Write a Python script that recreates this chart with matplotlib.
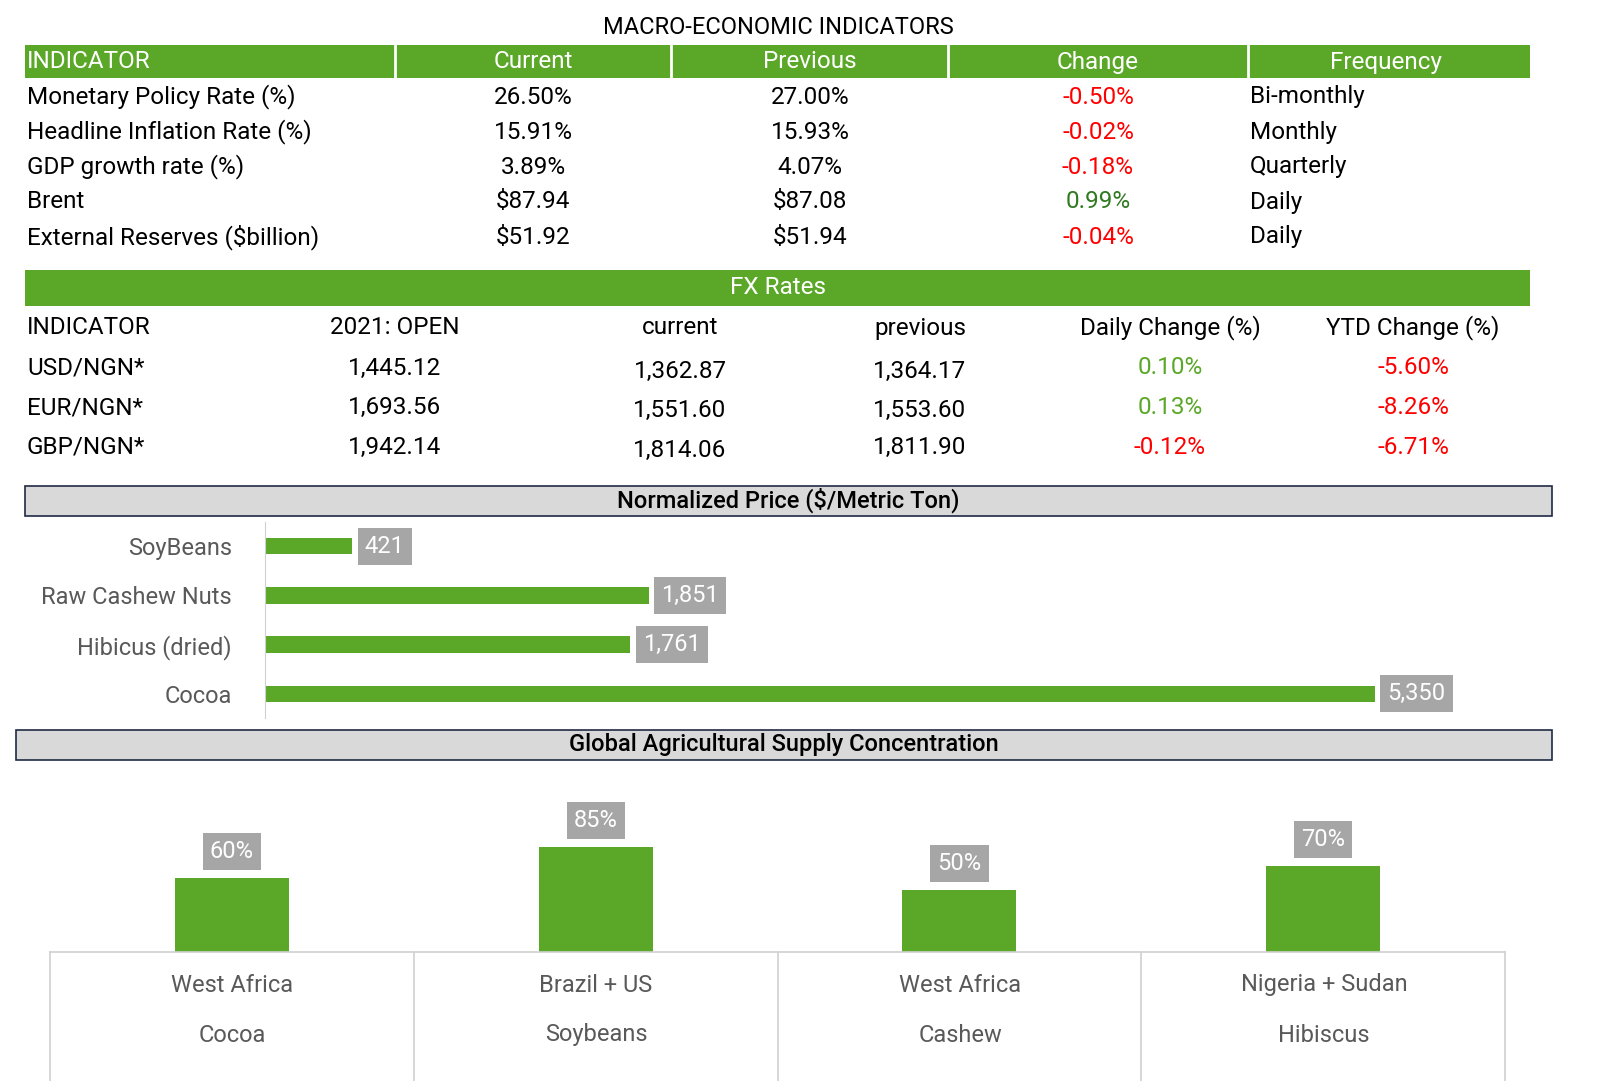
import matplotlib
matplotlib.use("Agg")
import matplotlib.pyplot as plt
from matplotlib.patches import Rectangle

plt.rcParams['font.family'] = ['Roboto', 'DejaVu Sans']

W, H = 1600, 1081
GREEN = '#5BA829'
RED = '#FF0000'
DKGREEN = '#2F7A1F'
GRAY_TXT = '#595959'
LBL = '#A6A6A6'

macro_headers = ["INDICATOR", "Current", "Previous", "Change", "Frequency"]
macro_names = ["Monetary Policy Rate (%)", "Headline Inflation Rate (%)", "GDP growth rate (%)",
               "Brent", "External Reserves ($billion)"]
macro_current = ["26.50%", "15.91%", "3.89%", "$87.94", "$51.92"]
macro_previous = ["27.00%", "15.93%", "4.07%", "$87.08", "$51.94"]
macro_change = [-0.50, -0.02, -0.18, 0.99, -0.04]
macro_freq = ["Bi-monthly", "Monthly", "Quarterly", "Daily", "Daily"]

fx_headers = ["INDICATOR", "2021: OPEN", "current", "previous", "Daily Change (%)", "YTD Change (%)"]
fx_names = ["USD/NGN*", "EUR/NGN*", "GBP/NGN*"]
fx_open = ["1,445.12", "1,693.56", "1,942.14"]
fx_current = ["1,362.87", "1,551.60", "1,814.06"]
fx_previous = ["1,364.17", "1,553.60", "1,811.90"]
fx_daily = [0.10, 0.13, -0.12]
fx_ytd = [-5.60, -8.26, -6.71]

commodities = ["SoyBeans", "Raw Cashew Nuts", "Hibicus (dried)", "Cocoa"]
prices = [421, 1851, 1761, 5350]

regions = ["West Africa", "Brazil + US", "West Africa", "Nigeria + Sudan"]
crops = ["Cocoa", "Soybeans", "Cashew", "Hibiscus"]
shares = [60, 85, 50, 70]

FS = 17.5

fig = plt.figure(figsize=(16, 10.81), dpi=100)

def fx_(x): return x / W
def fy(y): return 1 - y / H

def txt(x, y, s, ha='left', color='black', size=FS, weight='normal'):
    fig.text(fx_(x), fy(y), s, ha=ha, va='center', color=color, fontsize=size, fontweight=weight)

def rect(x0, y0, x1, y1, fc, ec='none', lw=0):
    fig.patches.append(Rectangle((fx_(x0), fy(y1)), (x1 - x0) / W, (y1 - y0) / H,
                                 transform=fig.transFigure, facecolor=fc, edgecolor=ec, linewidth=lw))

def line(x0, y0, x1, y1, color='#D0D0D0', lw=1.2):
    fig.lines.append(plt.Line2D([fx_(x0), fx_(x1)], [fy(y0), fy(y1)], transform=fig.transFigure,
                                color=color, linewidth=lw))

# Macro table
txt(778, 27, "MACRO-ECONOMIC INDICATORS", ha='center', size=17)
rect(25, 45, 1530, 78, GREEN)
for xs in [395, 671, 948, 1248]:
    line(xs, 45, xs, 78, color='white', lw=2)
hx = [(27, 'left'), (533, 'center'), (810, 'center'), (1098, 'center'), (1386, 'center')]
for (x, ha), h in zip(hx, macro_headers):
    txt(x, 62, h, ha=ha, color='white')
for i in range(5):
    y = 97 + i * 35
    txt(27, y, macro_names[i])
    txt(533, y, macro_current[i], ha='center')
    txt(810, y, macro_previous[i], ha='center')
    c = macro_change[i]
    txt(1098, y, f"{c:.2f}%", ha='center', color=RED if c < 0 else DKGREEN)
    txt(1250, y, macro_freq[i])

# FX table
rect(25, 270, 1530, 306, GREEN)
txt(778, 288, "FX Rates", ha='center', color='white')
fxx = [(27, 'left'), (395, 'center'), (680, 'center'), (920, 'center'), (1170, 'center'), (1413, 'center')]
for (x, ha), h in zip(fxx, fx_headers):
    txt(x, 328, h, ha=ha)
for i in range(3):
    y = 368 + i * 39.5
    txt(27, y, fx_names[i])
    txt(395, y, fx_open[i], ha='center')
    txt(680, y + 3, fx_current[i], ha='center')
    txt(920, y + 3 * (i != 2), fx_previous[i], ha='center')
    d = fx_daily[i]
    txt(1170, y, f"{d:.2f}%", ha='center', color=RED if d < 0 else GREEN)
    t = fx_ytd[i]
    txt(1413, y, f"{t:.2f}%", ha='center', color=RED if t < 0 else GREEN)

# Normalized price band
rect(25, 486, 1552, 516, '#D9D9D9', ec='#1F2A44', lw=1.2)
txt(788, 500, "Normalized Price ($/Metric Ton)", ha='center', size=17, weight='medium')

# Horizontal bar chart
ax_l, ax_r, ax_t, ax_b = 265, 1560, 522, 718
ax1 = fig.add_axes([fx_(ax_l), fy(ax_b), (ax_r - ax_l) / W, (ax_b - ax_t) / H])
pos = list(range(len(commodities)))
ax1.barh(pos, prices, height=0.33, color=GREEN)
ax1.set_xlim(0, (ax_r - ax_l) / (1110 / 5350))
ax1.set_ylim(3.49, -0.49)
ax1.set_yticks(pos)
ax1.set_yticklabels(commodities, fontsize=17, color=GRAY_TXT)
ax1.tick_params(axis='y', length=0, pad=24)
ax1.set_xticks([])
for s in ['top', 'right', 'bottom']:
    ax1.spines[s].set_visible(False)
ax1.spines['left'].set_color('#D0D0D0')
for p, v in zip(pos, prices):
    ax1.annotate(f"{v:,}", (v, p), xytext=(9, 0), textcoords='offset points', va='center', ha='left',
                 color='white', fontsize=17,
                 bbox=dict(boxstyle='square,pad=0.3', fc=LBL, ec='none'))

# Supply concentration band
rect(16, 730, 1552, 760, '#D9D9D9', ec='#1F2A44', lw=1.2)
txt(784, 744, "Global Agricultural Supply Concentration", ha='center', size=17, weight='medium')

# Column chart
cl, cr, ct, cb = 50, 1505, 790, 952
ax2 = fig.add_axes([fx_(cl), fy(cb), (cr - cl) / W, (cb - ct) / H])
xp = list(range(len(shares)))
ax2.bar(xp, shares, width=114 / 364, color=GREEN)
ax2.set_xlim(-0.5, 3.5)
ax2.set_ylim(0, (cb - ct) / (105 / 85))
ax2.axis('off')
for p, v in zip(xp, shares):
    ax2.annotate(f"{v}%", (p, v), xytext=(0, 19), textcoords='offset points', va='center', ha='center',
                 color='white', fontsize=17,
                 bbox=dict(boxstyle='square,pad=0.3', fc=LBL, ec='none'))

# Category table
line(50, 952, 1505, 952)
for xs in [50, 414, 778, 1141, 1505]:
    line(xs, 952, xs, 1081)
for i in range(4):
    cx = 50 + 364 * (i + 0.5)
    txt(cx, 985, regions[i], ha='center', color=GRAY_TXT, size=17)
    txt(cx, 1035, crops[i], ha='center', color=GRAY_TXT, size=17)

fig.savefig("out.png", dpi=100, facecolor='white')
